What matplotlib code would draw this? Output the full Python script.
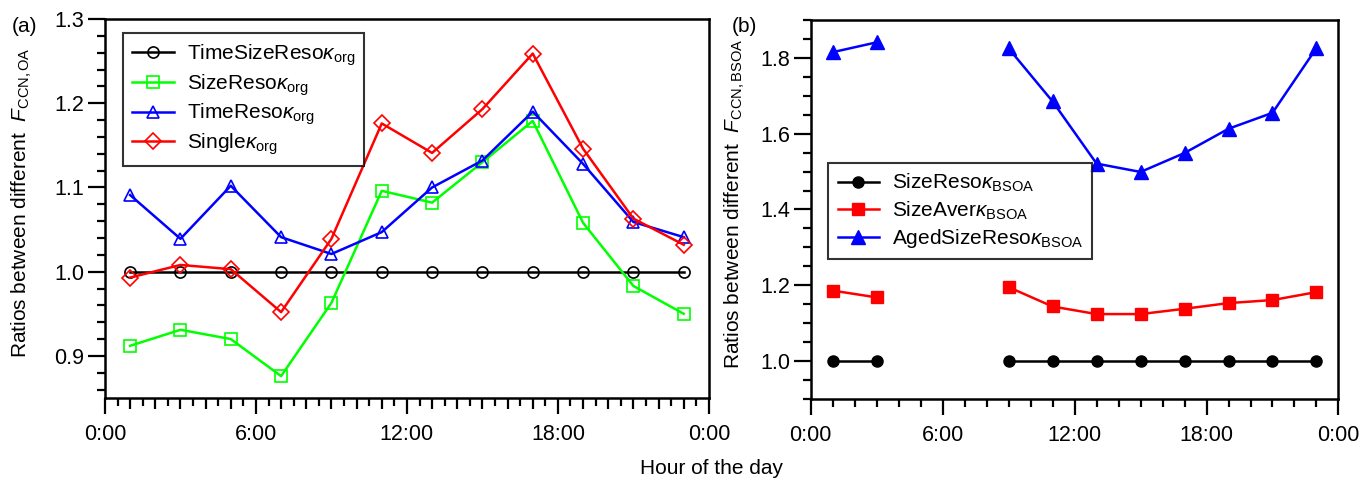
import numpy as np
import matplotlib
matplotlib.use("Agg")
import matplotlib.pyplot as plt
from matplotlib.ticker import MultipleLocator, FixedLocator

plt.rcParams['font.family'] = ['Liberation Sans', 'DejaVu Sans']
plt.rcParams['mathtext.fontset'] = 'custom'
plt.rcParams['mathtext.rm'] = 'Liberation Sans'
plt.rcParams['mathtext.it'] = 'Liberation Sans:italic'
plt.rcParams['mathtext.bf'] = 'Liberation Sans:bold'

# ---------------- data ----------------
hours = [1, 3, 5, 7, 9, 11, 13, 15, 17, 19, 21, 23]
xtick_pos = [0, 6, 12, 18, 24]
xtick_labels = ['0:00', '6:00', '12:00', '18:00', '0:00']

# panel (a)
time_size_reso = [1.0, 1.0, 1.0, 1.0, 1.0, 1.0, 1.0, 1.0, 1.0, 1.0, 1.0, 1.0]
size_reso = [0.912, 0.931, 0.920, 0.876, 0.963, 1.096, 1.082, 1.130, 1.179, 1.058, 0.983, 0.950]
time_reso = [1.091, 1.039, 1.102, 1.041, 1.021, 1.047, 1.100, 1.132, 1.190, 1.128, 1.059, 1.041]
single = [0.993, 1.008, 1.003, 0.952, 1.039, 1.176, 1.141, 1.193, 1.259, 1.146, 1.063, 1.032]

# panel (b)  (NaN = no data at 5:00 and 7:00)
nan = np.nan
size_reso_bsoa = [1.0, 1.0, nan, nan, 1.0, 1.0, 1.0, 1.0, 1.0, 1.0, 1.0, 1.0]
size_aver_bsoa = [1.186, 1.168, nan, nan, 1.195, 1.144, 1.124, 1.124, 1.138, 1.153, 1.161, 1.182]
aged_size_reso_bsoa = [1.815, 1.841, nan, nan, 1.825, 1.685, 1.521, 1.499, 1.549, 1.613, 1.655, 1.826]

labels_a = [r'TimeSizeReso$\kappa_{\mathrm{org}}$', r'SizeReso$\kappa_{\mathrm{org}}$',
            r'TimeReso$\kappa_{\mathrm{org}}$', r'Single$\kappa_{\mathrm{org}}$']
labels_b = [r'SizeReso$\kappa_{\mathrm{BSOA}}$', r'SizeAver$\kappa_{\mathrm{BSOA}}$',
            r'AgedSizeReso$\kappa_{\mathrm{BSOA}}$']

FS = 15
TFS = 15.5
LW = 1.8
fig = plt.figure(figsize=(13.63, 4.80), dpi=100)
axa = fig.add_axes([0.0770, 0.1708, 0.4431, 0.7896])
axb = fig.add_axes([0.5948, 0.1688, 0.3872, 0.7896])

def style(ax):
    for s in ax.spines.values():
        s.set_linewidth(1.8)
    ax.set_xlim(0, 24)
    ax.xaxis.set_major_locator(FixedLocator(xtick_pos))
    ax.set_xticklabels(xtick_labels)
    ax.tick_params(axis='x', which='major', length=11.5, width=1.6, pad=7, labelsize=TFS, direction='out')
    ax.tick_params(axis='y', which='major', length=12, width=1.6, pad=3, labelsize=TFS, direction='out')
    ax.tick_params(axis='y', which='minor', length=5.5, width=1.6, direction='out')
    ax.tick_params(top=False, right=False, which='both')

# ---- panel (a)
style(axa)
axa.plot(hours, time_size_reso, color='black', lw=LW, marker='o', ms=8, mfc='none', mew=1.2, label=labels_a[0])
axa.plot(hours, size_reso, color='#00ff00', lw=LW, marker='s', ms=8, mfc='none', mew=1.2, label=labels_a[1])
axa.plot(hours, time_reso, color='#0000ff', lw=LW, marker='^', ms=9, mfc='none', mew=1.2, label=labels_a[2])
axa.plot(hours, single, color='#ff0000', lw=LW, marker='D', ms=8.5, mfc='none', mew=1.2, label=labels_a[3])
axa.set_ylim(0.85, 1.3)
axa.yaxis.set_major_locator(MultipleLocator(0.1))
axa.yaxis.set_minor_locator(MultipleLocator(0.02))
axa.yaxis.set_major_formatter(matplotlib.ticker.FormatStrFormatter('%.1f'))
axa.xaxis.set_minor_locator(MultipleLocator(1))
axa.tick_params(axis='x', which='minor', length=8, width=1.6, direction='out')
sec = axa.secondary_xaxis('bottom')
sec.set_xticks(np.arange(0.5, 24, 1.0))
sec.tick_params(axis='x', which='major', length=6, width=1.6, labelbottom=False, direction='out')
sec.spines['bottom'].set_visible(False)
axa.set_ylabel(r'Ratios between different  $F_{\mathrm{CCN,OA}}$', fontsize=FS)
axa.yaxis.set_label_coords(-0.118, 0.515)
leg = axa.legend(loc='upper left', bbox_to_anchor=(0.03, 0.963), fontsize=FS, frameon=True,
                 fancybox=False, edgecolor='black', borderaxespad=0, handlelength=2.0,
                 labelspacing=0.2, borderpad=0.45, handletextpad=0.6)
leg.get_frame().set_linewidth(1.5)

# ---- panel (b)
style(axb)
axb.plot(hours, size_reso_bsoa, color='black', lw=LW, marker='o', ms=8, label=labels_b[0])
axb.plot(hours, size_aver_bsoa, color='#ff0000', lw=LW, marker='s', ms=8.5, label=labels_b[1])
axb.plot(hours, aged_size_reso_bsoa, color='#0000ff', lw=LW, marker='^', ms=9.5, label=labels_b[2])
axb.set_ylim(0.9, 1.9)
axb.yaxis.set_major_locator(MultipleLocator(0.2))
axb.yaxis.set_minor_locator(MultipleLocator(0.05))
axb.yaxis.set_major_formatter(matplotlib.ticker.FormatStrFormatter('%.1f'))
axb.xaxis.set_minor_locator(MultipleLocator(1))
axb.tick_params(axis='x', which='minor', length=5.5, width=1.6, direction='out')
axb.set_ylabel(r'Ratios between different  $F_{\mathrm{CCN,BSOA}}$', fontsize=FS)
axb.yaxis.set_label_coords(-0.1205, 0.515)
leg2 = axb.legend(loc='upper left', bbox_to_anchor=(0.0333, 0.6235), fontsize=FS, frameon=True,
                  fancybox=False, edgecolor='black', borderaxespad=0, handlelength=2.0,
                  labelspacing=0.25, borderpad=0.45, handletextpad=0.6)
leg2.get_frame().set_linewidth(1.5)

fig.text(12 / 1363, 1 - 27 / 480, '(a)', fontsize=FS, ha='left', va='center')
fig.text(732 / 1363, 1 - 27 / 480, '(b)', fontsize=FS, ha='left', va='center')
fig.text(712 / 1363, 1 - 468 / 480, 'Hour of the day', fontsize=FS, ha='center', va='center')

fig.savefig('out.png', dpi=100)
